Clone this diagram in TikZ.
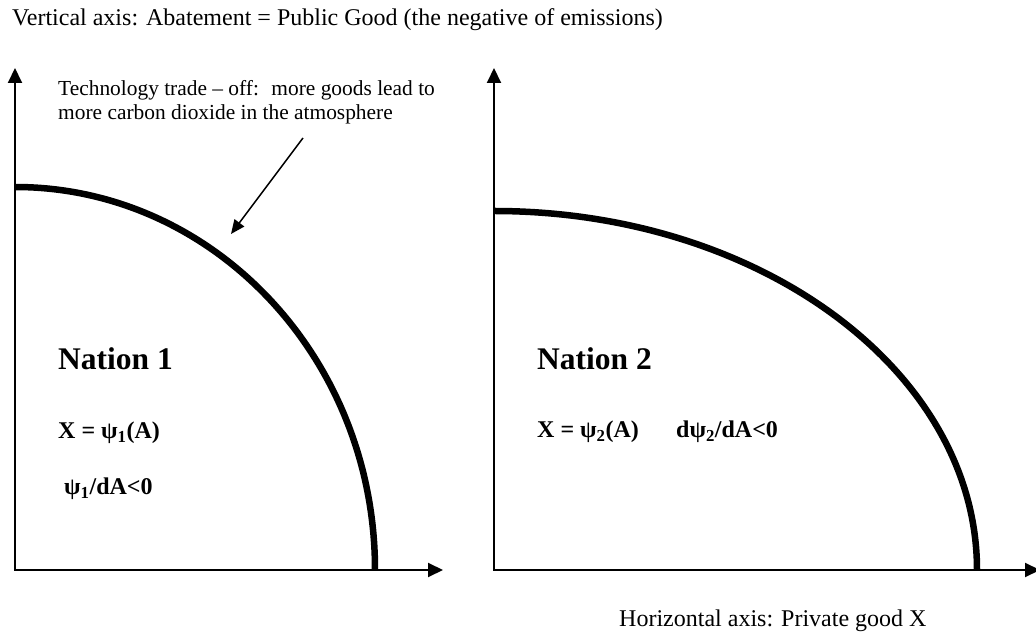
\documentclass[tikz,border=0pt]{standalone}
\usepackage{fontspec}
\setmainfont{Liberation Serif}
\usetikzlibrary{arrows.meta}
\begin{document}
\begin{tikzpicture}[x=1pt,y=1pt,
  axis/.style={line width=2pt,{Triangle[length=15pt,width=14pt]}-{Triangle[length=15pt,width=14pt]}},
  frontier/.style={line width=6.5pt},
  pointer/.style={line width=1.5pt,-{Triangle[length=14pt,width=12pt]}},
  txt/.style={anchor=base west,inner sep=0pt,font=\fontsize{24}{24}\selectfont},
  smalltxt/.style={anchor=base west,inner sep=0pt,font=\fontsize{21.4}{24}\selectfont},
  nation/.style={anchor=base west,inner sep=0pt,font=\fontsize{31.5}{32}\selectfont\bfseries},
  formula/.style={anchor=base west,inner sep=0pt,font=\fontsize{24}{24}\selectfont\bfseries}
]
\useasboundingbox (0,0) rectangle (1036,632);
\clip (0,0) rectangle (1036,632);

% title texts
\node[txt] (vtitle) at (12,606) {Vertical axis: Abatement = Public Good (the negative of emissions)};
\node[txt] (htitle) at (619,6) {Horizontal axis: Private good X};

% Nation 1 axes
\coordinate (o1) at (15,62);
\coordinate (y1) at (15,564);
\coordinate (x1) at (443,62);
\draw[axis] (y1) -- (o1) -- (x1);
\coordinate (t1) at (15,445);
\draw[frontier] (t1) arc[start angle=90,end angle=0,x radius=360,y radius=383];

% Nation 2 axes
\coordinate (o2) at (494,62);
\coordinate (y2) at (494,564);
\coordinate (x2) at (1040,62);
\draw[axis] (y2) -- (o2) -- (x2);
\coordinate (t2) at (494,421);
\draw[frontier] (t2) arc[start angle=90,end angle=0,x radius=483,y radius=359];

% annotation
\node[smalltxt] (note1) at (58,536) {Technology trade – off: \ more goods lead to};
\node[smalltxt] (note2) at (58,512) {more carbon dioxide in the atmosphere};
\coordinate (a0) at (303,494);
\coordinate (a1) at (231,398);
\draw[pointer] (a0) -- (a1);

% Nation labels
\node[nation] (n1) at (58,262) {Nation 1};
\node[formula] (f1) at (58,193) {X = ψ\textsubscript{1}(A)};
\node[formula] (d1) at (64,137) {ψ\textsubscript{1}/dA<0};

\node[nation] (n2) at (537,262) {Nation 2};
\node[formula] (f2) at (537,194) {X = ψ\textsubscript{2}(A)};
\node[formula] (d2) at (676,194) {dψ\textsubscript{2}/dA<0};
\end{tikzpicture}
\end{document}
